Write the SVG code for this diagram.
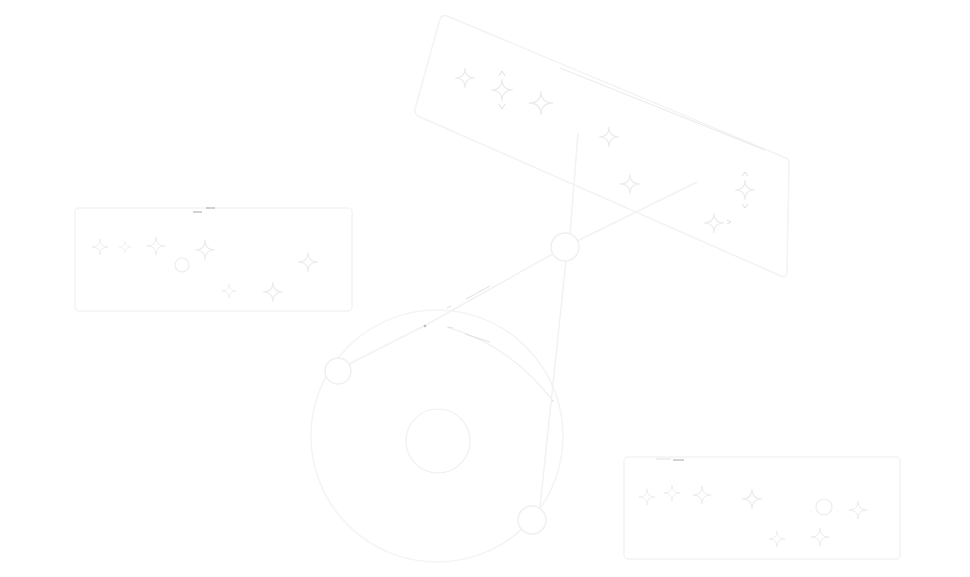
<svg xmlns="http://www.w3.org/2000/svg" xmlns:xlink="http://www.w3.org/1999/xlink" width="970" height="577" viewBox="0 0 970 577">
<style>
.frame{fill:none;stroke:#f3f3f3;stroke-width:1.5}
.sp{fill:none;stroke:#ececec;stroke-width:1.1;vector-effect:non-scaling-stroke}
.conn{fill:none;stroke:#f2f2f2;stroke-width:1.5}
.dark{fill:none;stroke:#e0e0e0;stroke-width:1}
.ink{fill:none;stroke:#a8a8a8;stroke-width:1}
.node{fill:#ffffff;stroke:#f0f0f0;stroke-width:1.5}
</style>
<defs>
<path id="spark" d="M0,-10 Q0,0 10,0 Q0,0 0,10 Q0,0 -10,0 Q0,0 0,-10 Z"/>
</defs>
<rect width="970" height="577" fill="#ffffff"/>

<g id="connectors">
<line class="conn" x1="697" y1="182" x2="565" y2="247"/>
<line class="conn" x1="565" y1="247" x2="426" y2="325"/>
<line class="conn" x1="426" y1="325" x2="349" y2="364"/>
<line class="conn" x1="566" y1="261" x2="540" y2="507"/>
<path class="conn" d="M447,327 Q510,345 553,401"/>
<line class="dark" x1="466" y1="299" x2="490" y2="286"/>
<line class="dark" x1="447" y1="308" x2="451" y2="306"/>
<line class="dark" x1="448" y1="327" x2="453" y2="328"/>
<line class="dark" x1="465" y1="334" x2="490" y2="342"/>
<circle cx="425" cy="326" r="1.3" fill="#bdbdbd"/>
<circle cx="553" cy="401" r="0.8" fill="#dadada"/>
</g>

<g id="panel-top">
<path class="frame" d="M447,16 L786,158 Q790,160 789,164 L787,272 Q786,278 781,276 L418,116 Q414,113 415,109 L440,19 Q442,14 447,16 Z"/>
<line class="conn" x1="578" y1="133" x2="570" y2="235"/>
<line x1="560" y1="68" x2="765" y2="150" stroke="#e2e2e2" stroke-width="0.8"/>
<use href="#spark" class="sp" transform="translate(465,78) scale(1)"/>
<use href="#spark" class="sp" transform="translate(502,90) scale(1.1)"/>
<path class="dark" d="M499,76 L502,71 L505,76 M499,104 L502,109 L505,104"/>
<use href="#spark" class="sp" transform="translate(541,103) scale(1.2)"/>
<use href="#spark" class="sp" transform="translate(609,137) scale(1)"/>
<use href="#spark" class="sp" transform="translate(630,184) scale(1)"/>
<use href="#spark" class="sp" transform="translate(745,190) scale(1)"/>
<path class="dark" d="M742,176 L745,172 L748,176 M742,204 L745,208 L748,204"/>
<use href="#spark" class="sp" transform="translate(714,223) scale(1)"/>
<path class="dark" d="M727,220 L731,222 L727,224"/>
</g>

<g id="panel-left">
<rect class="frame" x="75" y="208" width="277" height="103" rx="4"/>
<line class="ink" x1="193" y1="212" x2="202" y2="212"/>
<line class="ink" x1="206" y1="208" x2="215" y2="208"/>
<use href="#spark" class="sp" transform="translate(100,247) scale(0.8)"/>
<use href="#spark" class="sp" transform="translate(125,247) scale(0.6)"/>
<use href="#spark" class="sp" transform="translate(156,246) scale(0.9)"/>
<use href="#spark" class="sp" transform="translate(205,250) scale(1)"/>
<circle cx="182" cy="265" r="7" class="sp"/>
<use href="#spark" class="sp" transform="translate(308,262) scale(1)"/>
<use href="#spark" class="sp" transform="translate(229,291) scale(0.7)"/>
<use href="#spark" class="sp" transform="translate(273,292) scale(1)"/>
</g>

<g id="panel-right">
<rect class="frame" x="624" y="457" width="276" height="102" rx="4"/>
<line class="ink" x1="673" y1="460" x2="684" y2="460"/>
<line class="dark" x1="656" y1="459" x2="671" y2="459"/>
<use href="#spark" class="sp" transform="translate(647,497) scale(0.8)"/>
<use href="#spark" class="sp" transform="translate(672,493) scale(0.8)"/>
<use href="#spark" class="sp" transform="translate(702,495) scale(0.9)"/>
<use href="#spark" class="sp" transform="translate(752,499) scale(1)"/>
<circle cx="824" cy="507" r="8" class="sp"/>
<use href="#spark" class="sp" transform="translate(858,510) scale(0.9)"/>
<use href="#spark" class="sp" transform="translate(777,539) scale(0.8)"/>
<use href="#spark" class="sp" transform="translate(820,537) scale(0.9)"/>
</g>

<g id="ring">
<circle cx="437" cy="436" r="126" fill="none" stroke="#f4f4f4" stroke-width="1.5"/>
</g>
<g id="core">
<circle cx="438" cy="441" r="32" fill="none" stroke="#f0f0f0" stroke-width="1.2"/>
</g>
<g id="hub">
<circle class="node" cx="565" cy="247" r="14"/>
</g>
<g id="node-west">
<circle class="node" cx="338" cy="371" r="13"/>
</g>
<g id="node-south">
<circle class="node" cx="532" cy="520" r="14"/>
</g>
</svg>
